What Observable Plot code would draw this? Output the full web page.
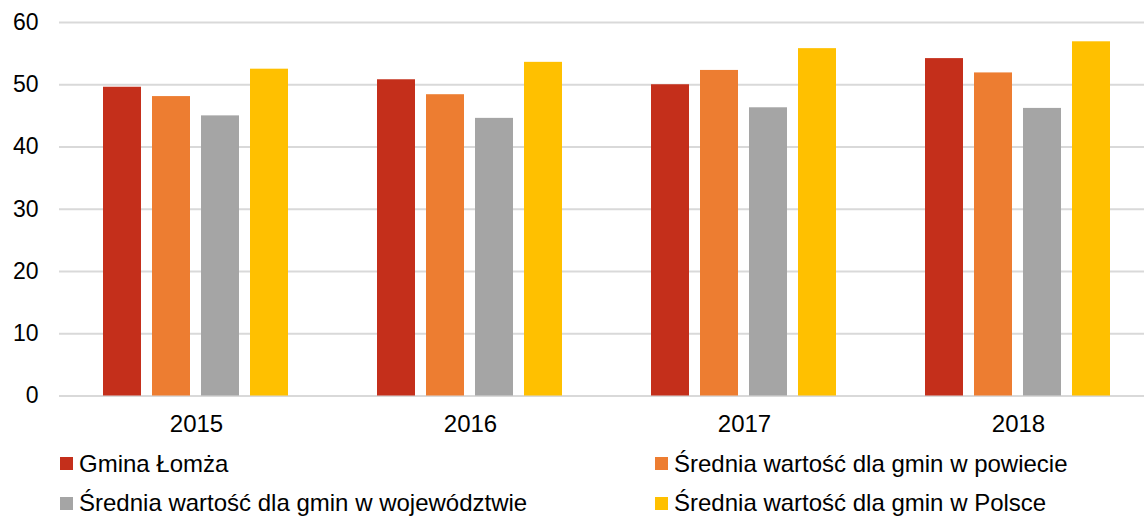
<!DOCTYPE html>
<html>
<head>
<meta charset="utf-8">
<script src="https://cdn.jsdelivr.net/npm/d3@7"></script>
<script src="https://cdn.jsdelivr.net/npm/@observablehq/plot@0.6"></script>
<style>
  html, body { margin: 0; padding: 0; background: #fff; }
  body { width: 1144px; height: 516px; overflow: hidden; font-family: "Liberation Sans", Arial, sans-serif; }
  #chart svg { display: block; }
  #legend { position: relative; width: 1144px; height: 76px; }
  .item { position: absolute; display: flex; align-items: center; font-size: 24px; color: #000; white-space: nowrap; line-height: 1; }
  .sw { width: 13px; height: 13px; margin-right: 6px; flex: none; }
</style>
</head>
<body>
<div id="chart"></div>
<div id="legend"></div>
<script>
const years = ["2015", "2016", "2017", "2018"];
const series = [
  "Gmina Łomża",
  "Średnia wartość dla gmin w powiecie",
  "Średnia wartość dla gmin w województwie",
  "Średnia wartość dla gmin w Polsce"
];
const gmina = [49.6, 50.8, 50.0, 54.2];
const powiat = [48.1, 48.4, 52.3, 51.9];
const wojewodztwo = [45.0, 44.6, 46.3, 46.2];
const polska = [52.5, 53.6, 55.8, 56.9];
const colors = ["#C42F1B", "#ED7D31", "#A5A5A5", "#FFC000"];
const yTicks = [0, 10, 20, 30, 40, 50, 60];

const values = [gmina, powiat, wojewodztwo, polska];
const data = [];
years.forEach((yr, i) => {
  series.forEach((s, j) => data.push({year: yr, series: s, value: values[j][i]}));
});

const chart = Plot.plot({
  width: 1144,
  height: 440,
  marginLeft: 58,
  marginRight: -12,
  marginTop: 22,
  marginBottom: 44.5,
  style: {fontFamily: "'Liberation Sans', Arial, sans-serif", color: "#000", background: "#fff"},
  fx: {domain: years, padding: 0, label: null},
  x: {domain: series, padding: 0.22, paddingOuter: 0.855, axis: null},
  y: {domain: [0, 60], label: null},
  color: {domain: series, range: colors},
  marks: [
    Plot.gridY(yTicks, {stroke: "#D9D9D9", strokeOpacity: 1, strokeWidth: 2}),
    Plot.barY(data, {fx: "year", x: "series", y: "value", fill: "series"}),
    Plot.axisY(yTicks, {tickSize: 0, tickPadding: 21, fontSize: 23, label: null, fill: "#000"}),
    Plot.axisFx({anchor: "bottom", tickSize: 0, tickPadding: 19, fontSize: 24, label: null, fill: "#000"})
  ]
});
document.getElementById("chart").appendChild(chart);

const legend = document.getElementById("legend");
const pos = [[60, 23.5], [655, 23.5], [60, 63], [655, 63]];
series.forEach((s, i) => {
  const it = document.createElement("div");
  it.className = "item";
  it.style.left = pos[i][0] + "px";
  it.style.top = (pos[i][1] - 12) + "px";
  it.style.height = "24px";
  const sw = document.createElement("span");
  sw.className = "sw";
  sw.style.background = colors[i];
  const tx = document.createElement("span");
  tx.textContent = s;
  it.appendChild(sw);
  it.appendChild(tx);
  legend.appendChild(it);
});
</script>
</body>
</html>
